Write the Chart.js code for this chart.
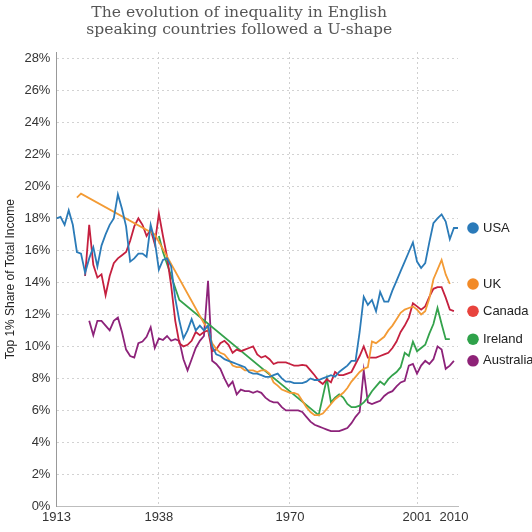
<!DOCTYPE html>
<html>
<head>
<meta charset="utf-8">
<script src="https://cdn.jsdelivr.net/npm/chart.js@4.4.0/dist/chart.umd.min.js"></script>
<style>
  html, body { margin: 0; padding: 0; background: #fff; }
  #wrap { width: 532px; height: 532px; }
</style>
</head>
<body>
<div id="wrap"><canvas id="chart" width="532" height="532"></canvas></div>
<script>
function seq(from, to, step) {
  var out = [];
  for (var v = from; v <= to; v += (step || 1)) out.push(v);
  return out;
}

var titleLines = ['The evolution of inequality in English', 'speaking countries followed a U-shape'];
var yAxisTitle = 'Top 1% Share of Total Income';
var xTickYears = [1913, 1938, 1970, 2001, 2010];
var xGridYears = [1938, 1970, 2001];
var yTickValues = seq(0, 28, 2);

var countries = ['USA', 'UK', 'Canada', 'Ireland', 'Australia'];
var lineColors = ['#2b7bb8', '#f39b35', '#c5203f', '#34a24c', '#8d237a'];
var dotColors = ['#2a7ab9', '#f28a27', '#e8433d', '#2fa24a', '#8e2277'];

// top 1% share (%)
var usaYears = seq(1913, 2011);
var usaShare = [
  18.0, 18.1, 17.6, 18.5, 17.6, 15.9, 15.8,
  14.6, 15.5, 16.2, 15.0, 16.3, 17.0, 17.6, 18.0, 19.5, 18.6,
  17.5, 15.3, 15.5, 15.8, 15.8, 15.6, 17.6, 16.6, 14.8, 15.4,
  15.5, 15.0, 13.0, 11.6, 10.5, 11.0, 11.7, 11.0, 11.3, 11.0,
  11.3, 10.0, 9.5, 9.4, 9.2, 9.1, 9.0, 8.9, 8.8, 8.7,
  8.4, 8.3, 8.3, 8.2, 8.1, 8.1, 8.2, 8.3, 8.0, 7.8,
  7.8, 7.7, 7.7, 7.7, 7.8, 8.0, 7.9, 7.9, 8.0, 8.1,
  8.2, 8.1, 8.4, 8.6, 8.8, 9.1, 9.1, 10.9, 13.1, 12.6,
  12.9, 12.2, 13.4, 12.8, 12.8, 13.5, 14.1, 14.7, 15.3, 15.9,
  16.5, 15.3, 14.9, 15.2, 16.5, 17.7, 18.0, 18.25, 17.8, 16.7,
  17.4, 17.4
];

var ukYears = [1918, 1919, 1937].concat(seq(1949, 2009));
var ukShare = [
  19.3, 19.55, 17.0,
  11.45,
  11.1, 10.2, 9.85, 9.6, 9.5, 9.2, 8.8, 8.7, 8.7, 8.5,
  8.5, 8.5, 8.4, 8.5, 8.5, 8.3, 7.75, 7.55, 7.3, 7.2,
  7.1, 7.1, 7.0, 6.6, 6.2, 5.9, 5.7, 5.7, 5.8, 6.1,
  6.4, 6.7, 6.9, 7.1, 7.4, 7.8, 8.1, 8.4, 8.6, 8.7,
  10.3, 10.2, 10.4, 10.6, 11.0, 11.3, 11.7, 12.1, 12.3, 12.4,
  12.5, 12.3, 12.0, 12.2, 13.0, 14.2, 14.8, 15.4, 14.5, 13.9
];

var canadaYears = seq(1920, 2010);
var canadaShare = [
  14.4, 17.6, 15.1, 14.3, 14.5, 13.2, 14.4, 15.2, 15.5, 15.7,
  15.9, 16.6, 17.5, 18.0, 17.6, 16.9, 17.3, 16.4, 18.3, 16.9,
  15.6, 13.8, 11.6, 10.2, 10.0, 10.1, 10.35, 10.9, 10.7, 10.9,
  11.0, 9.7, 9.8, 10.2, 10.35, 10.1, 9.6, 9.8, 9.7, 9.8,
  9.9, 10.0, 9.5, 9.3, 9.4, 9.2, 8.9, 9.0, 9.0, 9.0,
  8.9, 8.8, 8.8, 8.85, 8.8, 8.5, 8.2, 7.85, 7.65, 7.95,
  7.75, 8.4, 8.2, 8.2, 8.3, 8.4, 8.9, 9.4, 10.0, 9.3,
  9.3, 9.3, 9.4, 9.5, 9.6, 9.9, 10.3, 10.9, 11.3, 11.8,
  12.7, 12.5, 12.3, 12.5, 13.1, 13.6, 13.7, 13.7, 13.05, 12.3,
  12.2
];

var irelandYears = [1938, 1939, 1943, 1977, 1979].concat(seq(1980, 2009));
var irelandShare = [
  16.9, 15.9, 12.9, 5.7, 8.0,
  6.5, 6.8, 7.0, 6.8, 6.4, 6.2, 6.2, 6.3, 6.5, 6.8,
  7.2, 7.5, 7.8, 7.6, 7.95, 8.2, 8.4, 8.7, 9.6, 9.4,
  10.3, 9.7, 9.9, 10.1, 10.8, 11.4, 12.4, 11.4, 10.45, 10.45
];

var australiaYears = seq(1921, 2010);
var australiaShare = [
  11.6, 10.7, 11.6, 11.6, 11.3, 11.0, 11.6, 11.8, 10.9,
  9.8, 9.4, 9.3, 10.2, 10.3, 10.6, 11.2, 9.9, 10.5, 10.4,
  10.65, 10.35, 10.45, 10.35, 9.2, 8.5, 9.2, 9.9, 10.35, 10.65,
  14.1, 9.1, 8.9, 8.6, 8.0, 7.5, 7.8, 7.0, 7.3, 7.2,
  7.2, 7.1, 7.2, 7.1, 6.8, 6.6, 6.5, 6.5, 6.2, 6.0,
  6.0, 6.0, 6.0, 5.9, 5.6, 5.3, 5.1, 5.0, 4.9, 4.8,
  4.7, 4.7, 4.7, 4.8, 4.9, 5.2, 5.6, 5.9, 8.5, 6.5,
  6.4, 6.5, 6.6, 6.9, 7.1, 7.2, 7.5, 7.75, 7.85, 8.8,
  8.9, 8.3, 8.8, 9.1, 8.9, 9.2, 10.0, 9.8, 8.6, 8.8,
  9.1
];

var seriesYears = [usaYears, ukYears, canadaYears, irelandYears, australiaYears];
var seriesShare = [usaShare, ukShare, canadaShare, irelandShare, australiaShare];

function points(years, values) {
  return years.map(function (yr, i) { return { x: yr, y: values[i] }; });
}

var tickFont = { family: '"Liberation Sans", Arial, sans-serif', size: 13 };

var titlePlugin = {
  id: 'twoLineTitle',
  afterDraw: function (chart) {
    var ctx = chart.ctx, area = chart.chartArea;
    var cx = (area.left + area.right) / 2 - 18;
    ctx.save();
    ctx.font = '15.6px "DejaVu Serif", serif';
    ctx.fillStyle = '#555';
    ctx.textAlign = 'center';
    ctx.textBaseline = 'middle';
    titleLines.forEach(function (line, i) {
      ctx.fillText(line, cx, 12.5 + i * 17);
    });
    ctx.restore();
  }
};

var endLabelPlugin = {
  id: 'endLabels',
  afterDatasetsDraw: function (chart) {
    var ctx = chart.ctx, yScale = chart.scales.y;
    var x = chart.chartArea.right + 15;
    ctx.save();
    chart.data.datasets.forEach(function (ds, i) {
      var last = ds.data[ds.data.length - 1];
      var y = yScale.getPixelForValue(last.y);
      ctx.beginPath();
      ctx.arc(x, y, 5.8, 0, Math.PI * 2);
      ctx.fillStyle = dotColors[i];
      ctx.fill();
      ctx.fillStyle = '#222';
      ctx.font = '13px "Liberation Sans", Arial, sans-serif';
      ctx.textAlign = 'left';
      ctx.textBaseline = 'middle';
      ctx.fillText(ds.label, x + 10, y);
    });
    ctx.restore();
  }
};

new Chart(document.getElementById('chart'), {
  type: 'line',
  data: {
    datasets: countries.map(function (name, i) {
      return {
        label: name,
        data: points(seriesYears[i], seriesShare[i]),
        borderColor: lineColors[i],
        borderWidth: 1.8,
        pointRadius: 0,
        tension: 0,
        fill: false
      };
    })
  },
  options: {
    responsive: false,
    animation: false,
    layout: { padding: { top: 52, right: 74, left: 0, bottom: 4 } },
    plugins: {
      legend: { display: false },
      tooltip: { enabled: false },
      title: { display: false }
    },
    scales: {
      x: {
        type: 'linear',
        min: 1913,
        max: 2011,
        afterBuildTicks: function (axis) {
          axis.ticks = xTickYears.map(function (v) { return { value: v }; });
        },
        ticks: {
          autoSkip: false,
          maxRotation: 0,
          padding: 3,
          color: '#333',
          font: tickFont,
          callback: function (v) { return String(v); }
        },
        grid: {
          drawTicks: false,
          lineWidth: 1,
          color: function (c) {
            return c.tick && xGridYears.indexOf(c.tick.value) >= 0 ? '#cfcfcf' : 'rgba(0,0,0,0)';
          }
        },
        border: { color: '#bdbdbd', width: 1, dash: [2, 3] }
      },
      y: {
        min: 0,
        max: 28.4,
        afterBuildTicks: function (axis) {
          axis.ticks = yTickValues.map(function (v) { return { value: v }; });
        },
        ticks: {
          padding: 6,
          color: '#333',
          font: tickFont,
          callback: function (v) { return v + '%'; }
        },
        grid: {
          drawTicks: false,
          lineWidth: 1,
          color: function (c) {
            return c.tick && c.tick.value > 0 ? '#d2d2d2' : 'rgba(0,0,0,0)';
          }
        },
        border: { color: '#999', width: 1, dash: [2, 3] },
        title: {
          display: true,
          text: yAxisTitle,
          color: '#222',
          font: { family: '"Liberation Sans", Arial, sans-serif', size: 12 },
          padding: { top: 3, bottom: 1 }
        }
      }
    }
  },
  plugins: [titlePlugin, endLabelPlugin]
});
</script>
</body>
</html>
